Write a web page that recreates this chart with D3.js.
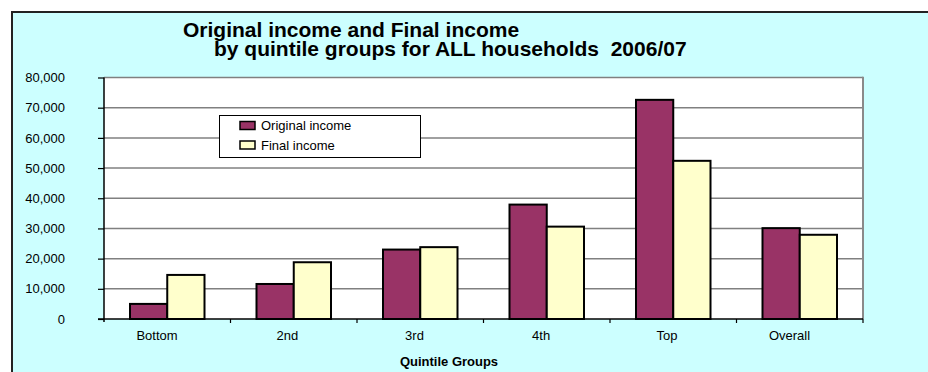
<!DOCTYPE html>
<html>
<head>
<meta charset="utf-8">
<script src="https://cdn.jsdelivr.net/npm/d3@7"></script>
<style>
  html, body { margin: 0; padding: 0; background: #ffffff; }
  svg { display: block; }
  text { font-family: "Liberation Sans", Arial, sans-serif; fill: #000; }
  .title { white-space: pre; }
</style>
</head>
<body>
<svg id="chart" width="928" height="372"></svg>
<script>
// Mean household income by quintile group, 2006/07 (£ per year)
const categories = ["Bottom", "2nd", "3rd", "4th", "Top", "Overall"];
const seriesNames = ["Original income", "Final income"];
const originalIncome = [5000, 11600, 23000, 37900, 72600, 30100];
const finalIncome = [14600, 18800, 23800, 30600, 52400, 27900];
const yTicks = [0, 10000, 20000, 30000, 40000, 50000, 60000, 70000, 80000];
const titleLines = ["Original income and Final income", "by quintile groups for ALL households  2006/07"];
const xAxisTitle = "Quintile Groups";

const colors = ["#993366", "#FFFFCC"];
const rows = categories.map((c, i) => ({ cat: c, values: [originalIncome[i], finalIncome[i]] }));

const svg = d3.select("#chart");

// outer chart frame
svg.append("rect")
  .attr("x", 12).attr("y", 12).attr("width", 940).attr("height", 380)
  .attr("fill", "#CCFFFF").attr("stroke", "#222").attr("stroke-width", 2);

// two-line title, the second line indented
const title = svg.append("text").attr("class", "title")
  .attr("font-size", 21).attr("font-weight", "bold");
title.append("tspan").attr("x", 183).attr("y", 36.7).text(titleLines[0]);
title.append("tspan").attr("x", 214).attr("y", 55.5).text(titleLines[1]);

// plot area
const plot = { left: 104, right: 863, top: 77.5, bottom: 319 };

const x0 = d3.scaleBand().domain(categories).range([plot.left, plot.right]).padding(0);
const x1 = d3.scaleBand().domain([0, 1])
  .range([26, x0.bandwidth() - 26]).padding(0);
const y = d3.scaleLinear().domain([0, 80000]).range([plot.bottom, plot.top]);

svg.append("rect")
  .attr("x", plot.left).attr("y", plot.top)
  .attr("width", plot.right - plot.left).attr("height", plot.bottom - plot.top)
  .attr("fill", "#ffffff");

// gridlines
svg.append("g").selectAll("line").data(yTicks.filter(d => d > 0)).join("line")
  .attr("x1", plot.left).attr("x2", plot.right)
  .attr("y1", d => y(d)).attr("y2", d => y(d))
  .attr("stroke", "#808080").attr("stroke-width", 1.5);

// right border of plot area
svg.append("line")
  .attr("x1", plot.right).attr("x2", plot.right)
  .attr("y1", plot.top - 0.75).attr("y2", plot.bottom)
  .attr("stroke", "#8a8a8a").attr("stroke-width", 2);

// bars
svg.append("g").selectAll("g").data(rows).join("g")
  .attr("transform", d => `translate(${x0(d.cat)},0)`)
  .selectAll("rect").data(d => d.values.map((v, k) => ({ k, v }))).join("rect")
  .attr("x", d => x1(d.k))
  .attr("width", x1.bandwidth())
  .attr("y", d => y(d.v))
  .attr("height", d => y(0) - y(d.v))
  .attr("fill", d => colors[d.k])
  .attr("stroke", "#000").attr("stroke-width", 2);

// y axis
const yAxis = d3.axisLeft(y).tickValues(yTicks).tickFormat(d3.format(",")).tickSize(6).tickPadding(33);
const gy = svg.append("g").attr("transform", `translate(${plot.left},0)`).call(yAxis);
gy.select(".domain").attr("stroke", "#000").attr("stroke-width", 1.5)
  .attr("d", `M0,${plot.top}V${plot.bottom + 3}`);
gy.selectAll(".tick line").attr("stroke", "#000").attr("stroke-width", 1.2);
gy.selectAll(".tick text").attr("font-size", 13).attr("font-family", "Liberation Sans, Arial, sans-serif").attr("fill", "#000");

// x axis
const xAxis = d3.axisBottom(x0).tickSize(0).tickPadding(12);
const gx = svg.append("g").attr("transform", `translate(0,${plot.bottom})`).call(xAxis);
gx.select(".domain").attr("stroke", "#000").attr("stroke-width", 1.5)
  .attr("d", `M${plot.left - 6},0H${plot.right}`);
gx.selectAll(".tick text").attr("font-size", 13).attr("font-family", "Liberation Sans, Arial, sans-serif").attr("fill", "#000")
  .attr("dx", function () { return -(2 + 0.2 * this.getComputedTextLength()); });
// tick marks on category boundaries
gx.append("g").selectAll("line").data(categories.slice(1).map(c => x0(c)).concat([plot.right])).join("line")
  .attr("x1", d => d).attr("x2", d => d).attr("y1", 0).attr("y2", 4)
  .attr("stroke", "#000").attr("stroke-width", 1.2);

svg.append("text").attr("x", 449).attr("y", 366)
  .attr("text-anchor", "middle").attr("font-size", 13).attr("font-weight", "bold")
  .text(xAxisTitle);

// legend
const legend = svg.append("g");
legend.append("rect").attr("x", 219.5).attr("y", 115.5).attr("width", 201).attr("height", 42)
  .attr("fill", "#fff").attr("stroke", "#000").attr("stroke-width", 1);
const li = legend.selectAll("g").data(seriesNames).join("g")
  .attr("transform", (d, i) => `translate(240,${121.5 + i * 19.5})`);
li.append("rect").attr("width", 15).attr("height", 8)
  .attr("fill", (d, i) => colors[i]).attr("stroke", "#000").attr("stroke-width", 1.5);
li.append("text").attr("x", 21).attr("y", 4).attr("dy", "0.35em").attr("font-size", 13).text(d => d);
</script>
</body>
</html>
